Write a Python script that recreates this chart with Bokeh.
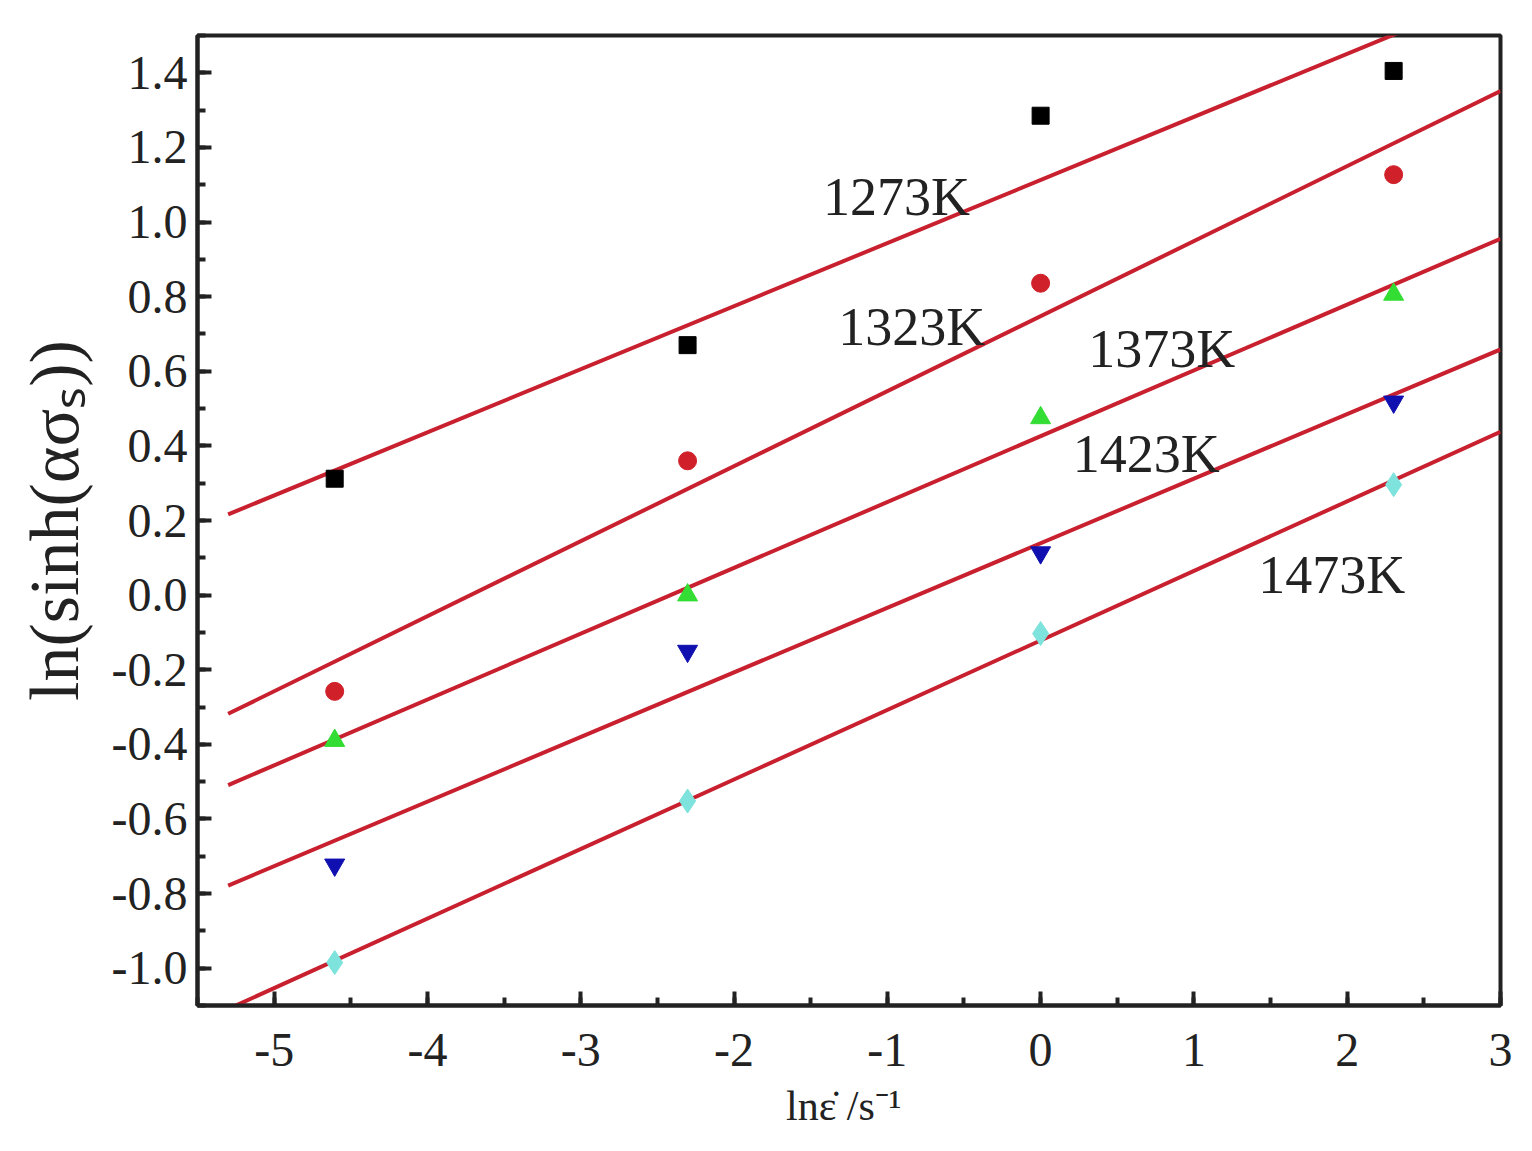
import numpy as np
from bokeh.plotting import figure
from bokeh.models import Range1d, FixedTicker
from bokeh.core.properties import value
from bokeh.embed import file_html
from bokeh.resources import INLINE

# ---- data ----
ln_rate = [-4.605, -2.303, 0.0, 2.303]
y_1273 = [0.312, 0.670, 1.285, 1.405]
y_1323 = [-0.258, 0.360, 0.836, 1.127]
y_1373 = [-0.390, 0.000, 0.475, 0.806]
y_1423 = [-0.723, -0.150, 0.114, 0.518]
y_1473 = [-0.985, -0.552, -0.103, 0.296]
temps = ["1273K", "1323K", "1373K", "1423K", "1473K"]
label_x = [-1.42, -1.32, 0.31, 0.21, 1.42]
label_y = [1.066, 0.718, 0.660, 0.379, 0.053]
fit_x = [-5.3, 3.0]
x_ticks = [-5, -4, -3, -2, -1, 0, 1, 2, 3]
y_ticks = [-1.0, -0.8, -0.6, -0.4, -0.2, 0.0, 0.2, 0.4, 0.6, 0.8, 1.0, 1.2, 1.4]

series = [y_1273, y_1323, y_1373, y_1423, y_1473]
markers = ["square", "circle", "triangle", "inverted_triangle", "diamond"]
colors = ["#000000", "#d0202a", "#33dd33", "#1010b0", "#7de3dc"]
sizes = [17, 18, 20, 20, 24]

FONT = "Liberation Serif"

p = figure(width=1516, height=1135, output_backend="svg", toolbar_location=None,
           x_range=Range1d(-5.5, 3.0), y_range=Range1d(-1.1, 1.5),
           min_border_left=197, min_border_right=16, min_border_top=35, min_border_bottom=130)
p.grid.visible = False
p.background_fill_color = "white"
p.outline_line_color = "#222222"
p.outline_line_width = 4

# fitted lines
for ys in series:
    k, b = np.polyfit(ln_rate, ys, 1)
    fx = np.array(fit_x)
    p.line(fx, k * fx + b, line_color="#c8202e", line_width=4)

for ys, m, c, s in zip(series, markers, colors, sizes):
    p.scatter(ln_rate, ys, marker=m, size=s, fill_color=c, line_color=c)

p.text(x=label_x, y=label_y, text=temps, text_font=value(FONT), text_font_size="54px",
       text_align="left", text_baseline="middle", text_color="#222222")

for ax in (p.xaxis[0], p.yaxis[0]):
    ax.axis_line_width = 4
    ax.axis_line_color = "#222222"
    ax.major_tick_in = 14
    ax.major_tick_out = 0
    ax.minor_tick_in = 8
    ax.minor_tick_out = 0
    ax.major_tick_line_width = 4
    ax.minor_tick_line_width = 4
    ax.major_tick_line_color = "#222222"
    ax.minor_tick_line_color = "#222222"
    ax.major_label_text_font = FONT
    ax.major_label_text_font_size = "48px"
    ax.major_label_text_color = "#222222"
    ax.axis_label_text_font = FONT
    ax.axis_label_text_font_style = "normal"
    ax.axis_label_text_color = "#222222"

p.xaxis.ticker = FixedTicker(ticks=x_ticks, minor_ticks=list(np.arange(-5.5, 3.01, 0.5)))
p.yaxis.ticker = FixedTicker(ticks=y_ticks, minor_ticks=list(np.round(np.arange(-1.1, 1.51, 0.1), 2)))
p.xaxis.major_label_overrides = {t: str(t) for t in x_ticks}
p.yaxis.major_label_overrides = {t: f"{t:.1f}" for t in y_ticks}
p.xaxis.major_label_standoff = 28
p.yaxis.major_label_standoff = 10

p.xaxis.axis_label = "ln\u03b5\u0307  /s\u207b\u00b9"
p.xaxis.axis_label_text_font_size = "42px"
p.xaxis.axis_label_standoff = 14
p.yaxis.axis_label = "ln(sinh(\u03b1\u03c3\u209b))"
p.yaxis.axis_label_text_font_size = "70px"
p.yaxis.axis_label_standoff = 16

open("out.html", "w").write(file_html(p, INLINE))
